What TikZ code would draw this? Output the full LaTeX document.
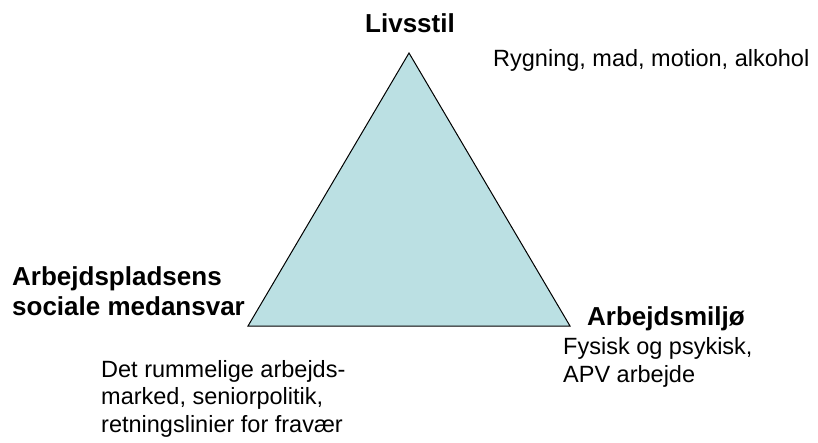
\documentclass[tikz,border=0pt]{standalone}
\usepackage{fontspec}
\setmainfont{Liberation Sans}
\usetikzlibrary{positioning}

\begin{document}
\begin{tikzpicture}[x=1pt,y=-1pt,
    head/.style={inner sep=0, anchor=base west, align=left, font=\fontsize{26}{30}\selectfont\bfseries},
    note/.style={inner sep=0, anchor=base west, align=left, font=\fontsize{23.5}{27.5}\selectfont}]

  \useasboundingbox (0,0) rectangle (818,443);

  % triangle
  \coordinate (top) at (409,53);
  \coordinate (left) at (248,326);
  \coordinate (right) at (570,326);
  \draw[line width=1pt, fill={rgb,255:red,187;green,224;blue,227}, line join=miter] (top) -- (left) -- (right) -- cycle;

  % corner labels (multi-line nodes sit on their last line)
  \node[head, anchor=base] (Livsstil) at (410,33) {Livsstil};
  \node[head] (Arbejdsplads) at (12,315) {Arbejdspladsens\\sociale medansvar};
  \node[head] (Miljo) at (587,325) {Arbejdsmiljø};

  % notes
  \node[note] (LivsstilNote) at (493,67) {Rygning, mad, motion, alkohol};
  \node[note] (MiljoNote) at (563,382) {Fysisk og psykisk,\\APV arbejde};
  \node[note] (ArbejdspladsNote) at (101,432) {Det rummelige arbejds-\\marked, seniorpolitik,\\retningslinier for fravær};

\end{tikzpicture}
\end{document}
